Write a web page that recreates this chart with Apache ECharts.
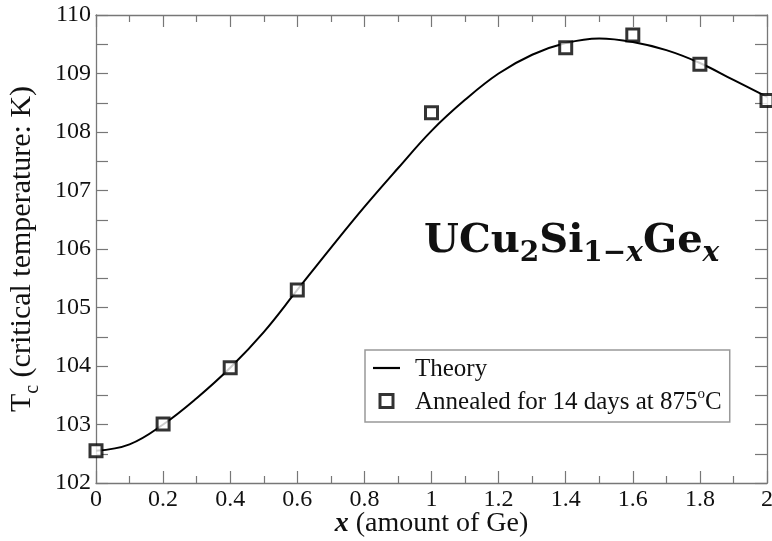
<!DOCTYPE html>
<html>
<head>
<meta charset="utf-8">
<script src="https://cdn.jsdelivr.net/npm/echarts@6/dist/echarts.min.js"></script>
<style>
  html, body { margin: 0; padding: 0; background: #fff; }
  #chart { width: 772px; height: 541px; }
</style>
</head>
<body>
<div id="chart"></div>
<script>
// Theory curve: Tc versus Ge content x
const theoryX = [0, 0.1, 0.2, 0.3, 0.4, 0.5, 0.6, 0.7, 0.8, 0.9, 1.0, 1.1, 1.2, 1.3, 1.4, 1.5, 1.6, 1.7, 1.8, 1.9, 2.0];
const theoryY = [102.55, 102.66, 103.0, 103.45, 103.97, 104.58, 105.3, 106.02, 106.72, 107.38, 108.02, 108.55, 109.0, 109.32, 109.52, 109.6, 109.54, 109.4, 109.18, 108.89, 108.6];

// Samples annealed for 14 days at 875 °C
const measX = [0, 0.2, 0.4, 0.6, 1.0, 1.4, 1.6, 1.8, 2.0];
const measY = [102.55, 103.01, 103.97, 105.3, 108.33, 109.44, 109.66, 109.16, 108.54];

const seriesNames = ['Theory', 'Annealed for 14 days at 875'];

const serif = '"Liberation Serif", "Times New Roman", serif';
const ink = '#111';
const frame = '#777';

const chart = echarts.init(document.getElementById('chart'), null, { renderer: 'canvas' });

const boxAxisX = (pos, withLabels) => ({
  type: 'value',
  position: pos,
  min: 0, max: 2, interval: 0.2,
  axisLine: { show: true, onZero: false, lineStyle: { color: frame, width: 1.3 } },
  axisTick: { show: true, inside: true, length: 12, lineStyle: { color: frame, width: 1.2 } },
  minorTick: { show: true, splitNumber: 2, length: 7, lineStyle: { color: frame, width: 1.2 } },
  splitLine: { show: false },
  axisLabel: { show: withLabels, color: ink, fontFamily: serif, fontSize: 24, margin: 5 }
});

const boxAxisY = (pos, withLabels) => ({
  type: 'value',
  position: pos,
  min: 102, max: 110, interval: 1,
  axisLine: { show: true, onZero: false, lineStyle: { color: frame, width: 1.3 } },
  axisTick: { show: true, inside: true, length: 12, lineStyle: { color: frame, width: 1.2 } },
  minorTick: { show: true, splitNumber: 2, length: 12, lineStyle: { color: frame, width: 1.2 } },
  splitLine: { show: false },
  axisLabel: { show: withLabels, color: ink, fontFamily: serif, fontSize: 24, margin: 5 }
});

const xBottom = boxAxisX('bottom', true);
xBottom.name = '{b|x}{t| (amount of Ge)}';
xBottom.nameLocation = 'middle';
xBottom.nameGap = 27;
xBottom.nameMoveOverlap = false;
xBottom.nameTextStyle = {
  rich: {
    b: { fontFamily: serif, fontSize: 28, fontWeight: 'bold', fontStyle: 'italic', color: ink },
    t: { fontFamily: serif, fontSize: 28, color: ink }
  }
};

const yLeft = boxAxisY('left', true);
yLeft.name = '{t|T}{c|c}{t| (critical temperature: K)}';
yLeft.nameLocation = 'middle';
yLeft.nameGap = 53;
yLeft.nameMoveOverlap = false;
yLeft.nameTextStyle = {
  rich: {
    t: { fontFamily: serif, fontSize: 30, color: ink, lineHeight: 32, verticalAlign: 'bottom', padding: [0, 0, 6, 0] },
    c: { fontFamily: serif, fontSize: 20, color: ink, lineHeight: 21, verticalAlign: 'bottom' }
  }
};

const option = {
  backgroundColor: '#fff',
  animation: false,
  grid: { left: 96, right: 5, top: 15, bottom: 58, containLabel: false, outerBoundsMode: 'none' },
  title: {
    text: '{b|UCu}{s|2}{b|Si}{s|1−}{si|x}{b|Ge}{si|x}',
    left: 419, top: 218,
    textStyle: {
      rich: {
        b: { fontFamily: '"DejaVu Serif", serif', fontWeight: 'bold', fontSize: 40, color: ink, lineHeight: 45, verticalAlign: 'bottom', padding: [0, 0, 6, 0] },
        s: { fontFamily: '"DejaVu Serif", serif', fontSize: 28, color: ink, lineHeight: 29, verticalAlign: 'bottom' },
        si: { fontFamily: '"DejaVu Serif", serif', fontStyle: 'italic', fontSize: 28, color: ink, lineHeight: 29, verticalAlign: 'bottom' }
      }
    }
  },
  legend: {
    orient: 'vertical',
    left: 365, top: 350,
    padding: [7, 8, 7, 8],
    itemWidth: 27, itemHeight: 13,
    itemGap: 5,
    borderColor: '#999', borderWidth: 1.5,
    backgroundColor: '#fff',
    data: [
      { name: seriesNames[0], icon: 'path://M0,0H27V2.2H0Z', itemStyle: { color: '#000', borderWidth: 0 } },
      { name: seriesNames[1], icon: 'path://M0,0H10V10H0Z', itemStyle: { color: '#fff', borderColor: '#000', borderWidth: 3 } }
    ],
    formatter: (name) => name === seriesNames[1]
      ? '{a|' + name + '}{sup|o}{a|C}'
      : '{a|' + name + '}',
    textStyle: {
      padding: [0, 0, 0, 10],
      rich: {
        a: { fontFamily: serif, fontSize: 25, color: ink, lineHeight: 28, verticalAlign: 'bottom' },
        sup: { fontFamily: serif, fontSize: 15, color: ink, lineHeight: 15, verticalAlign: 'top' }
      }
    }
  },
  xAxis: [xBottom, boxAxisX('top', false)],
  yAxis: [yLeft, boxAxisY('right', false)],
  series: [
    {
      name: seriesNames[0],
      type: 'line',
      xAxisIndex: 0, yAxisIndex: 0,
      data: theoryX.map((x, i) => [x, theoryY[i]]),
      smooth: 0.4,
      symbol: 'none',
      showSymbol: false,
      lineStyle: { color: '#000', width: 2 },
      itemStyle: { color: '#000' },
      z: 2
    },
    {
      name: seriesNames[1],
      type: 'scatter',
      xAxisIndex: 0, yAxisIndex: 0,
      data: measX.map((x, i) => [x, measY[i]]),
      symbol: 'rect',
      symbolSize: 12,
      clip: false,
      itemStyle: { color: '#fff', borderColor: '#000', borderWidth: 3 },
      z: 3
    }
  ]
};

chart.setOption(option);
</script>
</body>
</html>
